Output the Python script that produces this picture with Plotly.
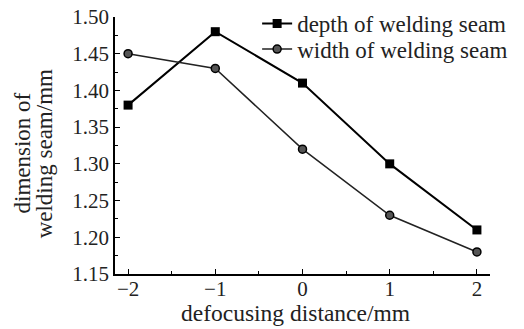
import plotly.graph_objects as go

x_vals = [-2, -1, 0, 1, 2]
x_labels = ["\u22122", "\u22121", "0", "1", "2"]
depth = [1.38, 1.48, 1.41, 1.30, 1.21]
width = [1.45, 1.43, 1.32, 1.23, 1.18]

font_family = "Liberation Serif, Times New Roman, serif"

# The page body adds an 8px offset; figure is sized so it fills the window.
W, H = 516, 321
L, R, T, B = 107, 34, 9, 55

fig = go.Figure()
fig.add_trace(go.Scatter(
    x=x_vals, y=depth, mode="lines+markers", name="depth of welding seam",
    line=dict(color="black", width=2),
    marker=dict(symbol="square", size=9, color="black"),
    legend="legend",
))
fig.add_trace(go.Scatter(
    x=x_vals, y=width, mode="lines+markers", name="width of welding seam",
    line=dict(color="#222222", width=1.5),
    marker=dict(symbol="circle", size=8, color="#555555", line=dict(color="black", width=1.5)),
    legend="legend2",
))

leg_common = dict(xanchor="left", yanchor="middle", bgcolor="rgba(0,0,0,0)",
                  font=dict(size=23), itemwidth=30)

fig.update_layout(
    width=W, height=H,
    margin=dict(l=L, r=R, t=T, b=B, autoexpand=False, pad=0),
    paper_bgcolor="white", plot_bgcolor="white",
    font=dict(family=font_family, size=21, color="#222222"),
    showlegend=True,
    legend=dict(x=0.379, y=0.975, **leg_common),
    legend2=dict(x=0.379, y=0.875, **leg_common),
    xaxis=dict(
        range=[-2.15, 2.15], tickvals=x_vals, ticktext=x_labels,
        showline=True, linecolor="black", linewidth=1.5,
        ticks="inside", ticklen=5, tickcolor="black",
        minor=dict(dtick=0.5, ticks="inside", ticklen=3, tickcolor="black"),
        showgrid=False, zeroline=False, automargin=False,
        tickfont=dict(size=21), ticklabeloverflow="allow",
        ticklabelstandoff=-5,
    ),
    yaxis=dict(
        range=[1.15, 1.50], dtick=0.05, tick0=1.15, tickformat=".2f",
        showline=True, linecolor="black", linewidth=1.5,
        ticks="inside", ticklen=5, tickcolor="black",
        minor=dict(dtick=0.025, ticks="inside", ticklen=3, tickcolor="black"),
        showgrid=False, zeroline=False, automargin=False,
        tickfont=dict(size=21), ticklabeloverflow="allow",
    ),
    annotations=[
        dict(text="dimension of", xref="paper", yref="paper", x=-0.248, y=0.469,
             textangle=-90, showarrow=False, xanchor="center", yanchor="middle",
             font=dict(size=23)),
        dict(text="welding seam/mm", xref="paper", yref="paper", x=-0.187, y=0.469,
             textangle=-90, showarrow=False, xanchor="center", yanchor="middle",
             font=dict(size=23)),
        dict(text="defocusing distance/mm", xref="paper", yref="paper", x=0.48, y=-0.15,
             showarrow=False, xanchor="center", yanchor="middle",
             font=dict(size=23.5)),
    ],
)

fig.write_html("out.html")
